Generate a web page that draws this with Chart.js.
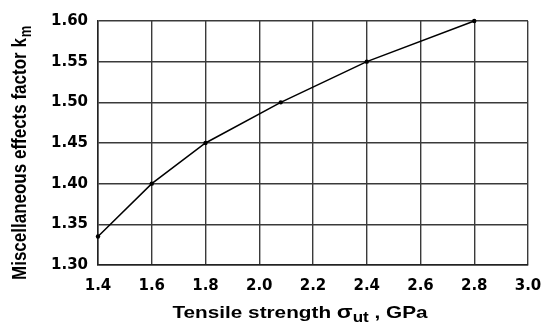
<!DOCTYPE html>
<html>
<head>
<meta charset="utf-8">
<script src="https://cdn.jsdelivr.net/npm/chart.js@4"></script>
<style>
  html, body { margin: 0; padding: 0; background: #fff; }
  #wrap { width: 545px; height: 324px; }
</style>
</head>
<body>
<div id="wrap"><canvas id="kmChart" width="545" height="324"></canvas></div>
<script>
// Tensile strength (GPa) and miscellaneous effects factor km
const resistencia = [1.4, 1.6, 1.8, 2.08, 2.4, 2.8];
const factorKm = [1.335, 1.40, 1.45, 1.50, 1.55, 1.60];

const ejeX = { min: 1.4, max: 3.0, paso: 0.2 };
const ejeY = { min: 1.3, max: 1.6, paso: 0.05 };

const tituloY = "Miscellaneous effects factor k";
const tituloYSub = "m";
const tituloX = ["Tensile strength ", "\u03C3", "ut", " , GPa"];

// the source picture is stretched horizontally, titles are drawn the same way
const estirar = 1.22;

const titulosPlugin = {
  id: "titulos",
  afterDraw(chart) {
    const ctx = chart.ctx;
    ctx.save();
    ctx.fillStyle = "#000";

    // y title, rotated
    ctx.save();
    ctx.translate(26, 280);
    ctx.scale(estirar, 1);
    ctx.rotate(-Math.PI / 2);
    ctx.textAlign = "left";
    ctx.textBaseline = "alphabetic";
    ctx.font = "bold 17px 'Liberation Sans', Arial, sans-serif";
    ctx.fillText(tituloY, 0, 0);
    const w = ctx.measureText(tituloY).width;
    ctx.font = "bold 13px 'Liberation Sans', Arial, sans-serif";
    ctx.fillText(tituloYSub, w + 1, 4);
    ctx.restore();

    // x title with subscript
    ctx.save();
    const fuente = "bold 17px 'Liberation Sans', Arial, sans-serif";
    const fuenteSigma = "bold 19px 'Liberation Sans', Arial, sans-serif";
    const fuenteSub = "bold 14px 'Liberation Sans', Arial, sans-serif";
    ctx.font = fuente;
    const w1 = ctx.measureText(tituloX[0]).width;
    ctx.font = fuenteSigma;
    const w2 = ctx.measureText(tituloX[1]).width;
    ctx.font = fuenteSub;
    const w3 = ctx.measureText(tituloX[2]).width;
    ctx.font = fuente;
    const w4 = ctx.measureText(tituloX[3]).width;
    const total = (w1 + w2 + w3 + w4) * estirar;
    ctx.translate(300 - total / 2, 318);
    ctx.scale(estirar, 1);
    ctx.textAlign = "left";
    ctx.textBaseline = "alphabetic";
    ctx.font = fuente;
    ctx.fillText(tituloX[0], 0, 0);
    ctx.font = fuenteSigma;
    ctx.fillText(tituloX[1], w1, 0);
    ctx.font = fuenteSub;
    ctx.fillText(tituloX[2], w1 + w2, 4);
    ctx.font = fuente;
    ctx.fillText(tituloX[3], w1 + w2 + w3, 0);
    ctx.restore();

    ctx.restore();
  },
};

document.addEventListener("DOMContentLoaded", function () {
  const ctx = document.getElementById("kmChart").getContext("2d");

  new Chart(ctx, {
    type: "line",
    data: {
      datasets: [
        {
          data: resistencia.map((x, i) => ({ x: x, y: factorKm[i] })),
          borderColor: "#000",
          borderWidth: 1.5,
          pointRadius: 2.2,
          pointBackgroundColor: "#000",
          pointBorderWidth: 0,
          tension: 0,
          clip: false,
        },
      ],
    },
    options: {
      responsive: false,
      animation: false,
      layout: {
        padding: { left: 0, right: 17, top: 21, bottom: 0 },
      },
      plugins: {
        legend: { display: false },
        tooltip: { enabled: false },
      },
      scales: {
        x: {
          type: "linear",
          min: ejeX.min,
          max: ejeX.max,
          afterFit: (scale) => {
            scale.height = 59;
            scale.paddingRight = 0;
            scale.paddingLeft = 0;
          },
          ticks: {
            stepSize: ejeX.paso,
            padding: 12,
            color: "#000",
            font: { family: "'DejaVu Sans'", size: 15, weight: "bold" },
            callback: (v) => v.toFixed(1),
          },
          grid: {
            color: "#3a3a3a",
            lineWidth: 1.4,
            drawTicks: false,
          },
          border: { color: "#222", width: 1.5 },
        },
        y: {
          type: "linear",
          min: ejeY.min,
          max: ejeY.max,
          afterFit: (scale) => {
            scale.width = 98;
            scale.paddingTop = 0;
            scale.paddingBottom = 0;
          },
          ticks: {
            stepSize: ejeY.paso,
            padding: 10,
            color: "#000",
            font: { family: "'DejaVu Sans'", size: 15, weight: "bold" },
            callback: (v) => v.toFixed(2),
          },
          grid: {
            color: "#3a3a3a",
            lineWidth: 1.4,
            drawTicks: false,
          },
          border: { color: "#222", width: 1.5 },
        },
      },
    },
    plugins: [titulosPlugin],
  });
});
</script>
</body>
</html>
